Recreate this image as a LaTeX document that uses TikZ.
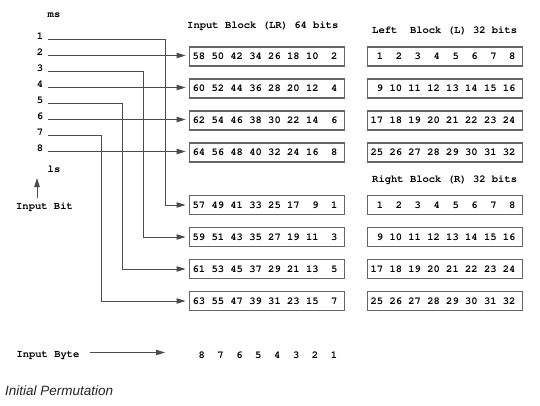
\documentclass[tikz,border=0pt]{standalone}
\usepackage{fontspec}
\newfontfamily\arialf{Liberation Sans}
\newcommand{\cour}{\fontencoding{T1}\fontfamily{pcr}\fontseries{b}\selectfont}
\usetikzlibrary{arrows.meta}
\newcommand{\bx}[1]{\makebox[149pt][l]{#1}}
\begin{document}
\begin{tikzpicture}[x=1pt,y=-1pt,
  txt/.style={font=\fontsize{10.5}{12}\cour, text=black, inner sep=0pt},
  bitbox/.style={txt, draw=black!60, line width=1.2pt, inner xsep=3pt, inner ysep=0pt, minimum height=19pt, anchor=west},
  wire/.style={draw=black!70, line width=1pt},
  tip/.style={-{Triangle[length=9pt,width=5.5pt]}},
  arr/.style={wire, tip, shorten >=3.5pt}]
\useasboundingbox[fill=white] (0,0) rectangle (540,406);
% titles
\node[txt,anchor=west] (tin) at (187,26) {Input Block (LR) 64 bits};
\node[txt,anchor=west] (tleft) at (372,31) {Left~ Block (L) 32 bits};
\node[txt,anchor=west] (tright) at (372,180) {Right Block (R) 32 bits};
% input block rows
\node[bitbox] (b58) at (189,56.5) {\bx{58 50 42 34 26 18 10 ~2}};
\node[bitbox] (b60) at (189,88.5) {\bx{60 52 44 36 28 20 12 ~4}};
\node[bitbox] (b62) at (189,120.5) {\bx{62 54 46 38 30 22 14 ~6}};
\node[bitbox] (b64) at (189,152.5) {\bx{64 56 48 40 32 24 16 ~8}};
\node[bitbox] (b57) at (189,205) {\bx{57 49 41 33 25 17 ~9 ~1}};
\node[bitbox] (b59) at (189,237) {\bx{59 51 43 35 27 19 11 ~3}};
\node[bitbox] (b61) at (189,269) {\bx{61 53 45 37 29 21 13 ~5}};
\node[bitbox] (b63) at (189,301) {\bx{63 55 47 39 31 23 15 ~7}};
% left block
\node[bitbox] (L1) at (367,56.5) {\bx{~1 ~2 ~3 ~4 ~5 ~6 ~7 ~8}};
\node[bitbox] (L2) at (367,88.5) {\bx{~9 10 11 12 13 14 15 16}};
\node[bitbox] (L3) at (367,120.5) {\bx{17 18 19 20 21 22 23 24}};
\node[bitbox] (L4) at (367,152.5) {\bx{25 26 27 28 29 30 31 32}};
% right block
\node[bitbox] (R1) at (367,205) {\bx{~1 ~2 ~3 ~4 ~5 ~6 ~7 ~8}};
\node[bitbox] (R2) at (367,237) {\bx{~9 10 11 12 13 14 15 16}};
\node[bitbox] (R3) at (367,269) {\bx{17 18 19 20 21 22 23 24}};
\node[bitbox] (R4) at (367,301) {\bx{25 26 27 28 29 30 31 32}};
% bit labels
\node[txt] (ms) at (54,15) {ms};
\node[txt] (ls) at (54,169) {ls};
\foreach \i in {1,...,8}{
  \node[txt] (n\i) at (40,{36+16*(\i-1)}) {\i};
  \coordinate (s\i) at (48,{39.5+16*(\i-1)});
}
\coordinate (c1) at (165,39.5);
\coordinate (c3) at (143,71.5);
\coordinate (c5) at (122,103.5);
\coordinate (c7) at (101,135.5);
\draw[arr] (s1) -- (c1) |- (b57.west);
\draw[arr] (s2) -- (s2 -| b58.west);
\draw[arr] (s3) -- (c3) |- (b59.west);
\draw[arr] (s4) -- (s4 -| b60.west);
\draw[arr] (s5) -- (c5) |- (b61.west);
\draw[arr] (s6) -- (s6 -| b62.west);
\draw[arr] (s7) -- (c7) |- (b63.west);
\draw[arr] (s8) -- (s8 -| b64.west);
% input bit
\node[txt] (ibit) at (44.5,207) {Input Bit};
\coordinate (ubase) at (37,198);
\coordinate (utop) at (37,178);
\draw[wire,tip] (ubase) -- (utop);
% input byte
\node[txt] (ibyte) at (48,355) {Input Byte};
\coordinate (bstart) at (90,352.5);
\coordinate (bend) at (165,352.5);
\draw[wire,tip] (bstart) -- (bend);
\node[txt,anchor=west] (bytes) at (192,355) {~8 ~7 ~6 ~5 ~4 ~3 ~2 ~1};
% caption
\node[anchor=west,inner sep=0pt,font=\arialf\itshape\fontsize{13.5}{15}\selectfont,text=black!85] (cap) at (5,391) {Initial Permutation};
\end{tikzpicture}
\end{document}
